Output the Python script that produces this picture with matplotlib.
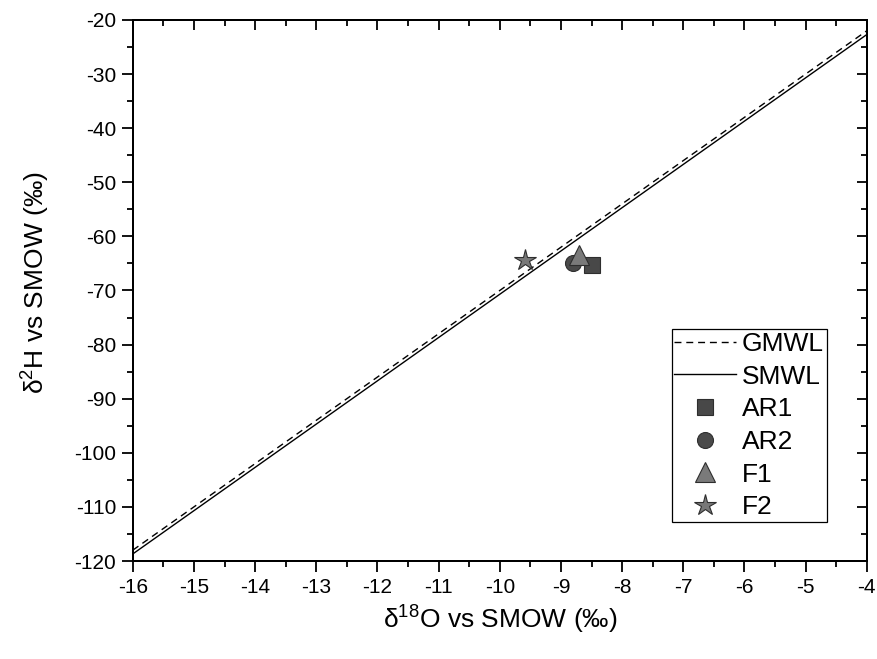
import numpy as np
import matplotlib.pyplot as plt
from matplotlib.ticker import MultipleLocator

plt.rcParams['font.family'] = ['Liberation Sans', 'DejaVu Sans']
plt.rcParams['mathtext.fontset'] = 'custom'
plt.rcParams['mathtext.rm'] = 'Liberation Sans'
plt.rcParams['mathtext.default'] = 'regular'
plt.rcParams['axes.unicode_minus'] = False

# meteoric water lines
x_line = np.array([-16, -4])
gmwl = 8 * x_line + 10
smwl = 8 * x_line + 9.3

# samples
names = ['AR1', 'AR2', 'F1', 'F2']
d18o = [-8.50, -8.81, -8.71, -9.59]
d2h = [-65.2, -65.0, -63.4, -64.4]
marks = ['s', 'o', '^', '*']
colors = ['#484848', '#4a4a4a', '#7a7a7a', '#787878']
sizes = [11.5, 11.5, 14, 16]

fig = plt.figure(figsize=(8.78, 6.59), dpi=100)
ax = fig.add_axes([0.1512, 0.1487, 0.836, 0.821])

ax.plot(x_line, gmwl, 'k--', lw=1.0, label='GMWL', dashes=(5, 3.5))
ax.plot(x_line, smwl, 'k-', lw=1.0, label='SMWL')
for n, x, y, m, c, s in zip(names, d18o, d2h, marks, colors, sizes):
    ax.plot(x, y, m, color=c, mec='#2e2e2e', mew=0.8, ms=s, label=n, linestyle='none')

ax.set_xlim(-16, -4)
ax.set_ylim(-120, -20)
ax.xaxis.set_major_locator(MultipleLocator(1))
ax.xaxis.set_minor_locator(MultipleLocator(0.5))
ax.yaxis.set_major_locator(MultipleLocator(10))
ax.yaxis.set_minor_locator(MultipleLocator(5))
ax.tick_params(which='both', direction='out', labelsize=15, width=1.3, pad=4)
ax.tick_params(which='major', length=8)
ax.tick_params(which='minor', length=4.5)

# inward ticks on top and right
ax2 = ax.twinx()
ax2.set_ylim(-120, -20)
ax2.yaxis.set_major_locator(MultipleLocator(10))
ax2.yaxis.set_minor_locator(MultipleLocator(5))
ax2.tick_params(which='both', direction='in', labelright=False, width=1.3)
ax2.tick_params(which='major', length=7)
ax2.tick_params(which='minor', length=4)
ax3 = ax.twiny()
ax3.set_xlim(-16, -4)
ax3.xaxis.set_major_locator(MultipleLocator(1))
ax3.xaxis.set_minor_locator(MultipleLocator(0.5))
ax3.tick_params(which='both', direction='in', labeltop=False, width=1.3)
ax3.tick_params(which='major', length=7)
ax3.tick_params(which='minor', length=4)

for a in (ax, ax2, ax3):
    for sp in a.spines.values():
        sp.set_linewidth(1.4)

ax.set_xlabel('δ$^{18}$O vs SMOW (‰)', fontsize=19, labelpad=5)
ax.set_ylabel('δ$^{2}$H vs SMOW (‰)', fontsize=19, labelpad=16, y=0.515)

leg = ax.legend(loc='lower right', bbox_to_anchor=(0.9455, 0.072), fontsize=19,
                fancybox=False, edgecolor='black', framealpha=1,
                handlelength=2.35, handletextpad=0.22, labelspacing=0.33,
                borderpad=0.1, borderaxespad=0)
leg.get_frame().set_linewidth(0.9)

fig.savefig('out.png', dpi=100)
